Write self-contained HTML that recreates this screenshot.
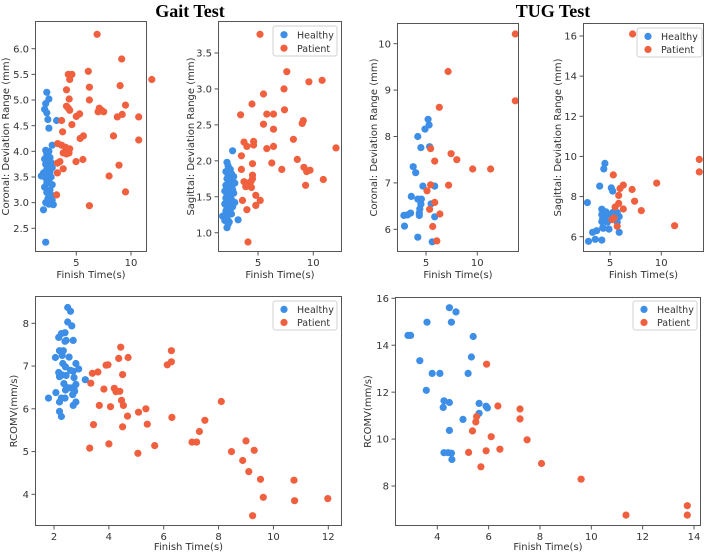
<!DOCTYPE html>
<html><head><meta charset="utf-8">
<style>
html,body{margin:0;padding:0;background:#fff;}
svg{display:block;font-family:"DejaVu Sans","Liberation Sans",sans-serif;}
</style></head>
<body>
<svg id="fig" width="708" height="553" viewBox="0 0 708 553">
<text x="190" y="17" text-anchor="middle" font-family="Liberation Serif, serif" font-weight="bold" font-size="18" fill="#000">Gait Test</text>
<text x="553" y="17" text-anchor="middle" font-family="Liberation Serif, serif" font-weight="bold" font-size="18" fill="#000">TUG Test</text>
</svg>
<script>
// ---- data arrays ----
const gaitCoronalHealthy=[[2.3,5.15],[2.5,5.02],[2.2,4.93],[2.1,4.82],[2.3,4.75],[2.4,4.62],[2.5,4.45],[3.2,4.6],[2.8,4.12],[2.2,4.02],[2.5,4.0],[2.3,3.95],[2.6,3.88],[2.1,3.85],[2.4,3.8],[2.7,3.78],[2.2,3.75],[2.5,3.72],[2.8,3.68],[2.3,3.65],[2.6,3.6],[2.0,3.58],[2.4,3.55],[1.8,3.52],[2.7,3.5],[2.2,3.48],[2.5,3.42],[2.3,3.38],[2.8,3.35],[2.1,3.3],[2.6,3.25],[2.3,3.2],[2.7,3.15],[2.4,3.08],[2.8,3.05],[2.2,3.0],[2.5,2.97],[2.9,2.96],[2.0,2.86],[2.2,2.23]];
const gaitCoronalPatient=[[6.9,6.28],[9.15,5.8],[11.9,5.4],[6.1,5.56],[4.27,5.5],[4.6,5.5],[4.4,5.4],[9.0,5.28],[6.2,5.25],[4.1,5.2],[4.35,5.02],[6.2,5.0],[4.1,4.88],[4.27,4.84],[4.4,4.8],[7.1,4.84],[7.3,4.8],[6.99,4.77],[7.5,4.77],[9.5,4.9],[9.2,4.72],[8.75,4.67],[10.7,4.67],[5.3,4.73],[5.0,4.68],[3.66,4.6],[4.6,4.52],[3.75,4.38],[8.4,4.3],[5.65,4.3],[5.35,4.25],[10.7,4.22],[3.3,4.15],[3.66,4.12],[4.0,4.08],[4.4,4.05],[3.8,3.97],[4.1,3.95],[4.33,3.97],[3.5,3.8],[4.97,3.8],[5.6,3.84],[3.27,3.77],[3.8,3.66],[8.9,3.73],[3.27,3.58],[8.0,3.52],[3.2,3.15],[9.5,3.21],[6.2,2.94]];
const gaitSagittalHealthy=[[2.7,2.14],[2.2,1.98],[2.3,1.93],[2.5,1.88],[2.1,1.85],[2.6,1.82],[2.3,1.8],[2.8,1.78],[2.2,1.75],[2.5,1.72],[2.4,1.7],[2.9,1.69],[2.1,1.66],[2.6,1.64],[2.3,1.62],[2.7,1.6],[2.0,1.58],[2.4,1.56],[2.8,1.55],[2.2,1.53],[2.5,1.5],[2.1,1.48],[2.6,1.46],[2.3,1.44],[2.9,1.42],[2.0,1.4],[2.4,1.38],[2.7,1.36],[2.2,1.34],[2.5,1.32],[2.1,1.3],[2.3,1.28],[2.6,1.26],[1.8,1.23],[2.2,1.2],[2.0,1.17],[3.2,1.18],[2.3,1.12],[2.2,1.07],[2.4,1.15]];
const gaitSagittalPatient=[[5.18,3.76],[7.6,3.24],[9.6,3.1],[10.8,3.12],[7.35,3.0],[5.5,2.93],[4.46,2.79],[7.4,2.71],[3.43,2.64],[5.8,2.65],[6.4,2.65],[5.5,2.51],[9.0,2.52],[9.1,2.56],[6.4,2.44],[8.2,2.3],[3.73,2.26],[4.6,2.27],[4.6,2.22],[4.0,2.2],[5.8,2.17],[6.4,2.2],[12.05,2.18],[3.5,2.07],[8.55,2.02],[6.25,1.97],[4.5,1.96],[3.5,1.88],[9.15,1.91],[9.4,1.85],[9.7,1.87],[7.15,1.88],[10.9,1.74],[4.5,1.8],[4.5,1.75],[3.73,1.71],[4.0,1.69],[4.35,1.71],[3.9,1.64],[4.4,1.63],[9.3,1.66],[4.8,1.52],[3.6,1.45],[5.2,1.45],[4.8,1.38],[4.0,1.32],[4.1,0.87]];
const tugCoronalHealthy=[[5.2,8.37],[5.3,8.25],[4.9,8.16],[4.2,8.0],[5.35,7.78],[4.5,7.76],[3.75,7.35],[4.0,7.22],[4.7,6.93],[5.85,6.93],[3.57,6.71],[4.2,6.65],[4.55,6.65],[4.5,6.54],[5.5,6.55],[4.4,6.44],[3.5,6.35],[3.2,6.31],[2.85,6.3],[4.35,6.3],[5.85,6.27],[2.9,6.07],[4.2,5.83],[5.6,5.73],[4.35,6.35]];
const tugCoronalPatient=[[13.7,10.21],[7.15,9.4],[13.7,8.77],[6.3,8.63],[5.45,7.74],[7.45,7.63],[8.0,7.5],[5.85,7.47],[9.55,7.3],[11.3,7.3],[5.45,6.96],[7.2,6.95],[5.1,6.83],[5.85,6.58],[5.35,6.43],[6.35,6.33],[5.65,6.06],[6.05,5.75]];
const tugSagittalHealthy=[[4.5,9.65],[4.4,9.38],[4.0,8.52],[5.13,8.43],[5.26,8.27],[2.8,7.7],[4.2,7.37],[4.6,7.24],[5.26,7.2],[5.7,7.2],[4.2,7.1],[4.8,7.07],[5.9,7.0],[4.3,6.92],[4.4,6.92],[5.5,6.92],[4.2,6.75],[4.75,6.72],[5.7,6.72],[4.35,6.42],[4.9,6.38],[3.3,6.22],[3.7,6.3],[4.3,6.45],[5.9,6.22],[3.57,5.87],[4.2,5.83],[2.9,5.77]];
const tugSagittalPatient=[[7.2,16.1],[13.7,9.85],[13.7,9.23],[5.32,9.08],[9.55,8.67],[6.3,8.57],[5.97,8.4],[7.15,8.35],[5.85,8.06],[5.85,7.66],[7.4,7.77],[8.05,7.3],[6.3,7.38],[5.5,7.48],[5.4,6.93],[5.2,6.85],[5.7,6.52],[11.3,6.55]];
const gaitRcomvHealthy=[[2.5,8.37],[2.6,8.28],[2.5,8.03],[2.65,7.94],[2.17,7.67],[2.27,7.76],[2.4,7.78],[2.4,7.58],[2.44,7.6],[2.7,7.6],[2.05,7.2],[2.2,7.36],[2.3,7.25],[2.34,7.36],[2.55,7.21],[2.32,7.06],[2.42,6.98],[2.8,7.06],[2.6,6.9],[2.7,6.88],[2.9,6.93],[2.17,6.85],[2.3,6.79],[2.44,6.78],[2.2,6.75],[2.73,6.73],[3.14,6.68],[2.36,6.59],[2.8,6.57],[2.46,6.5],[2.6,6.49],[2.73,6.5],[2.42,6.44],[2.75,6.41],[2.68,6.33],[2.07,6.38],[1.8,6.25],[2.27,6.25],[2.4,6.25],[2.2,6.16],[2.8,6.16],[2.7,6.08],[2.2,5.94],[2.27,5.82]];
const gaitRcomvPatient=[[3.34,6.6],[3.4,6.83],[3.6,6.86],[3.82,6.46],[3.9,7.02],[3.97,7.03],[3.65,6.08],[4.06,6.05],[3.44,5.63],[3.3,5.08],[4.0,5.18],[4.43,7.44],[4.36,7.18],[4.7,7.2],[4.5,6.8],[4.2,6.48],[4.26,6.4],[4.4,6.41],[4.46,6.2],[4.53,6.08],[4.68,5.83],[4.5,5.58],[5.08,5.92],[5.35,6.0],[5.4,5.64],[5.06,4.96],[5.67,5.14],[6.13,7.03],[6.28,7.1],[6.28,7.36],[6.3,5.8],[7.3,5.47],[7.03,5.22],[7.2,5.22],[7.5,5.73],[8.1,6.17],[8.47,5.0],[9.0,5.25],[9.3,5.03],[8.88,4.79],[9.1,4.53],[9.53,4.35],[9.63,3.93],[9.24,3.5],[10.75,4.33],[10.77,3.85],[11.98,3.9]];
const tugRcomvHealthy=[[4.47,15.6],[4.73,15.42],[3.6,14.98],[4.55,14.98],[2.86,14.42],[2.96,14.42],[5.4,14.37],[3.32,13.34],[5.33,13.5],[3.8,12.8],[4.1,12.8],[5.2,12.8],[3.57,12.08],[4.26,11.63],[4.47,11.56],[4.23,11.35],[5.63,11.52],[5.9,11.4],[5.95,11.33],[5.63,11.1],[5.0,10.84],[4.47,10.37],[4.26,9.42],[4.42,9.42],[4.55,9.4],[4.57,9.13]];
const tugRcomvPatient=[[5.92,13.19],[6.36,11.41],[7.22,11.28],[7.22,10.86],[5.53,10.96],[5.5,10.73],[5.37,10.35],[6.1,10.1],[7.5,9.97],[5.22,9.43],[5.9,9.5],[6.44,9.57],[5.7,8.82],[8.06,8.96],[9.6,8.29],[11.35,6.76],[13.74,7.16],[13.74,6.76]];
const xTicksTop=[5,10];
const yTicksGaitCoronal=[2.5,3.0,3.5,4.0,4.5,5.0,5.5,6.0];
const yTicksGaitSagittal=[1.0,1.5,2.0,2.5,3.0,3.5];
const yTicksTugCoronal=[6,7,8,9,10];
const yTicksTugSagittal=[6,8,10,12,14,16];
const xTicksGaitRcomv=[2,4,6,8,10,12];
const yTicksGaitRcomv=[4,5,6,7,8];
const xTicksTugRcomv=[4,6,8,10,12,14];
const yTicksTugRcomv=[8,10,12,14,16];

const NS="http://www.w3.org/2000/svg";
const svg=document.getElementById('fig');
const BLUE="#3d8ee6", RED="#f0603e";
const FS=10;
function mk(tag,attrs,parent){const e=document.createElementNS(NS,tag);for(const k in attrs)e.setAttribute(k,attrs[k]);(parent||svg).appendChild(e);return e;}
function lin(p1,v1,p2,v2){return v=>p1+(v-v1)*(p2-p1)/(v2-v1);}

function panel(c){
  const g=mk('g',{});
  
  
  const X=lin(c.xr[0],c.xr[1],c.xr[2],c.xr[3]);
  const Y=lin(c.yr[0],c.yr[1],c.yr[2],c.yr[3]);
  const [L,T,R,B]=c.box;
  const series=[[c.h,BLUE,'healthy'],[c.p,RED,'patient']];
  for(const [data,col,nm] of series){
    for(const d of data){
      const pt=mk('circle',{cx:X(d[0]).toFixed(1),cy:Y(d[1]).toFixed(1),r:3.6,fill:col},g);
      
      
    }
  }
  const fr=mk('rect',{x:L+0.5,y:T+0.5,width:R-L-1,height:B-T-1,fill:'none',stroke:'#555','stroke-width':1},g);
  
  
  for(const t of c.xt){
    const x=X(t);
    mk('line',{x1:x,y1:B,x2:x,y2:B+3.5,stroke:'#555'},g);
    const tx=mk('text',{x:x,y:B+14,'text-anchor':'middle','font-size':FS,fill:'#333'},g);
    tx.textContent=String(t);
    
    
  }
  for(const t of c.yt){
    const y=Y(t);
    mk('line',{x1:L-3.5,y1:y,x2:L,y2:y,stroke:'#555'},g);
    const tx=mk('text',{x:L-6,y:y+3.6,'text-anchor':'end','font-size':FS,fill:'#333'},g);
    tx.textContent=c.yfmt?t.toFixed(1):String(t);
    
    
  }
  const xl=mk('text',{x:(L+R)/2,y:c.xly,'text-anchor':'middle','font-size':FS,fill:'#333'},g);
  xl.textContent='Finish Time(s)';
  
  
  const cy=(T+B)/2;
  const yl=mk('text',{x:c.ylx,y:cy,'text-anchor':'middle','font-size':FS,fill:'#333',transform:`rotate(-90 ${c.ylx} ${cy})`},g);
  yl.textContent=c.ylabel;
  
  
  if(c.leg){
    const [lx,ly,lw,lh]=c.leg;
    const lg=mk('g',{},g);
    
    
    mk('rect',{x:lx,y:ly,width:lw,height:lh,rx:2.5,fill:'#fff','fill-opacity':0.85,stroke:'#d0d0d0'},lg);
    const items=[['Healthy',BLUE],['Patient',RED]];
    items.forEach((it,i)=>{
      const yy=ly+lh*(0.29+0.45*i);
      mk('circle',{cx:lx+11,cy:yy,r:3.6,fill:it[1]},lg);
      const t=mk('text',{x:lx+24,y:yy+3.6,'font-size':9.5,fill:'#333'},lg);
      t.textContent=it[0];
      
      
    });
  }
}
panel({name:'gait-coronal-panel',box:[35,21,147,252],xr:[76.3,5,131,10],yr:[48.7,6.0,228.3,2.5],h:gaitCoronalHealthy,p:gaitCoronalPatient,xt:xTicksTop,yt:yTicksGaitCoronal,yfmt:true,xly:278,ylx:9,ylabel:'Coronal: Deviation Range (mm)'});
panel({name:'gait-sagittal-panel',box:[218,21,342,252],xr:[258,5,313.3,10],yr:[53,3.5,232.7,1.0],h:gaitSagittalHealthy,p:gaitSagittalPatient,xt:xTicksTop,yt:yTicksGaitSagittal,yfmt:true,xly:278,ylx:194,ylabel:'Sagittal: Deviation Range (mm)',leg:[273,26,64,30]});
panel({name:'tug-coronal-panel',box:[397,23,519,252],xr:[426,5,477.3,10],yr:[43.7,10,229.3,6],h:tugCoronalHealthy,p:tugCoronalPatient,xt:xTicksTop,yt:yTicksTugCoronal,xly:278,ylx:377,ylabel:'Coronal: Deviation Range (mm)'});
panel({name:'tug-sagittal-panel',box:[583,23,704,252],xr:[610,5,661.3,10],yr:[36,16,236.7,6],h:tugSagittalHealthy,p:tugSagittalPatient,xt:xTicksTop,yt:yTicksTugSagittal,xly:278,ylx:561,ylabel:'Sagittal: Deviation Range (mm)',leg:[637,28,65,29]});
panel({name:'gait-rcomv-panel',box:[35,296,342,526],xr:[54,2,328.3,12],yr:[323.3,8,494.3,4],h:gaitRcomvHealthy,p:gaitRcomvPatient,xt:xTicksGaitRcomv,yt:yTicksGaitRcomv,xly:550,ylx:17,ylabel:'RCOMV(mm/s)',leg:[273,301,64,29]});
panel({name:'tug-rcomv-panel',box:[395,297,701,526],xr:[437.3,4,694,14],yr:[298.3,16,486,8],h:tugRcomvHealthy,p:tugRcomvPatient,xt:xTicksTugRcomv,yt:yTicksTugRcomv,xly:550,ylx:371,ylabel:'RCOMV(mm/s)',leg:[633,301,64,29]});
</script>
</body></html>
